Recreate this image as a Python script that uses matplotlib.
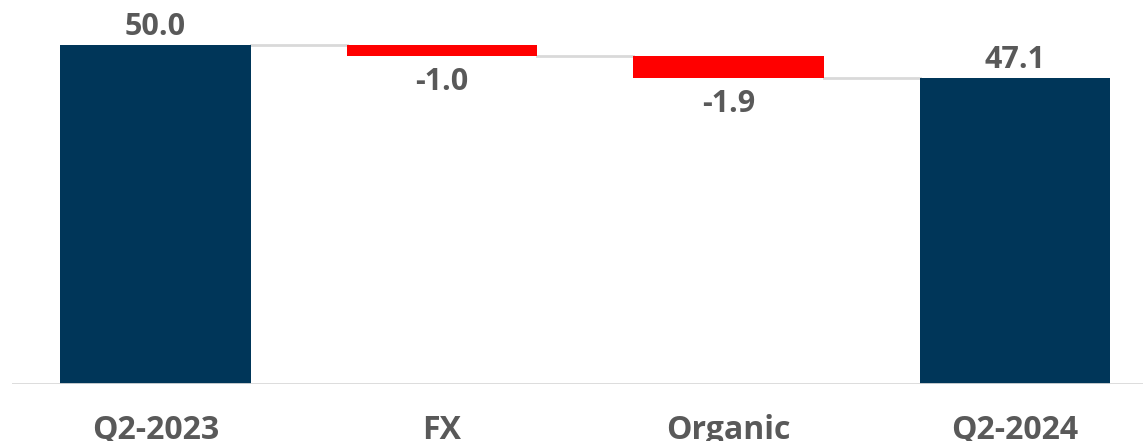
import numpy as np
import matplotlib.pyplot as plt

categories = ['Q2-2023', 'FX', 'Organic', 'Q2-2024']
start_value = 50.0
changes = [-1.0, -1.9]
end_value = 47.1
labels = ['50.0', '-1.0', '-1.9', '47.1']

navy = '#003659'
red = '#ff0000'
grey_txt = '#595959'
grey_line = '#d9d9d9'
ymin = 20

plt.rcParams['font.family'] = ['Open Sans', 'DejaVu Sans']

fig = plt.figure(figsize=(11.43, 4.41), dpi=100)
ax = fig.add_axes([12 / 1143, 57 / 441, 1 - 12 / 1143, 1 - 57 / 441])

x = np.arange(len(categories))
w = 0.665

# running totals for the floating bars
tops = [start_value]
for c in changes:
    tops.append(tops[-1] + c)

# totals
ax.bar(x[0], start_value - (ymin - 0.2), bottom=ymin - 0.2, width=w, color=navy, zorder=2)
ax.bar(x[3], end_value - (ymin - 0.2), bottom=ymin - 0.2, width=w, color=navy, zorder=2)
# changes
for i, c in enumerate(changes):
    ax.bar(x[i + 1], c, bottom=tops[i], width=w, color=red, zorder=2)

# connector lines
levels = [start_value, tops[1], tops[2]]
for i, lv in enumerate(levels):
    ax.plot([x[i] + w / 2, x[i + 1] - w / 2], [lv, lv], color=grey_line, lw=2, zorder=1)

# value labels
fs = 22
ax.text(x[0], start_value + 0.25, labels[0], ha='center', va='bottom', fontsize=fs,
        fontweight='bold', color=grey_txt)
ax.text(x[1], tops[1] - 0.95, labels[1], ha='center', va='top', fontsize=fs,
        fontweight='bold', color=grey_txt)
ax.text(x[2], tops[2] - 0.95, labels[2], ha='center', va='top', fontsize=fs,
        fontweight='bold', color=grey_txt)
ax.text(x[3], end_value + 0.25, labels[3], ha='center', va='bottom', fontsize=fs,
        fontweight='bold', color=grey_txt)

ax.axhline(ymin, color=grey_line, lw=2, zorder=3)

ax.set_xlim(-0.5, (1143 - 155.4) / 286.5)
ax.set_ylim(ymin, ymin + 384 / 11.3)
ax.set_xticks(x)
ax.set_xticklabels(categories, fontsize=23, fontweight='bold', color=grey_txt)
ax.tick_params(axis='x', length=0, pad=21.5)
ax.set_yticks([])
for s in ax.spines.values():
    s.set_visible(False)

fig.savefig('out.png', dpi=100)
